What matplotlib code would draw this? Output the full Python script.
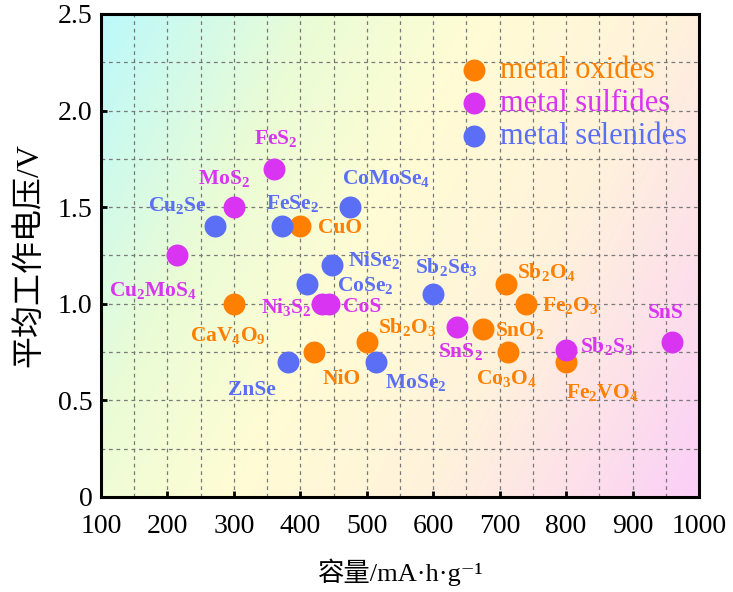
import numpy as np
import matplotlib
matplotlib.use("Agg")
import matplotlib.pyplot as plt
from matplotlib.colors import LinearSegmentedColormap
from matplotlib.ticker import MultipleLocator

plt.rcParams['font.family'] = ['Liberation Serif', 'Noto Sans CJK SC', 'DejaVu Serif']
plt.rcParams['mathtext.fontset'] = 'custom'
plt.rcParams['mathtext.rm'] = 'Liberation Serif'
plt.rcParams['mathtext.default'] = 'regular'

# data: (capacity mA h/g, average voltage V)
oxide_names = ['CuO', 'CaV$_4$O$_9$', 'NiO', 'Sb$_2$O$_3$', 'Sb$_2$O$_4$',
               'Fe$_2$O$_3$', 'SnO$_2$', 'Co$_3$O$_4$', 'Fe$_2$VO$_4$']
oxide_cap = [400, 300, 420, 500, 710, 740, 675, 712, 800]
oxide_volt = [1.40, 1.00, 0.75, 0.80, 1.10, 1.00, 0.87, 0.75, 0.70]

sulfide_names = ['FeS$_2$', 'MoS$_2$', 'Cu$_2$MoS$_4$', 'Ni$_3$S$_2$', 'CoS',
                 'SnS$_2$', 'Sb$_2$S$_3$', 'SnS']
sulfide_cap = [360, 300, 215, 432, 443, 636, 800, 960]
sulfide_volt = [1.70, 1.50, 1.25, 1.00, 1.00, 0.88, 0.76, 0.80]

selenide_names = ['Cu$_2$Se', 'FeSe$_2$', 'CoMoSe$_4$', 'NiSe$_2$', 'CoSe$_2$',
                  'Sb$_2$Se$_3$', 'ZnSe', 'MoSe$_2$']
selenide_cap = [272, 372, 475, 447, 410, 600, 382, 514]
selenide_volt = [1.40, 1.40, 1.50, 1.20, 1.10, 1.05, 0.70, 0.70]

x_ticks = [100, 200, 300, 400, 500, 600, 700, 800, 900, 1000]
y_ticks = [0, 0.5, 1.0, 1.5, 2.0, 2.5]
y_ticklabels = ['0', '0.5', '1.0', '1.5', '2.0', '2.5']

# label offsets in pixels (dx right, dy down) from each point
oxide_off = [(40, 2), (-6, 32), (28, 27), (40, -15), (40, -12),
             (44, 2), (37, 2), (-1, 26), (36, 31)]
sulfide_off = [(2, -30), (-10, -29), (-24, 35), (-35, 3), (33, 3),
               (3, 25), (41, -4), (-7, -29)]
selenide_off = [(-38, -21), (11, -23), (36, -29), (42, -5), (58, 1),
                (13, -27), (-36, 28), (40, 21)]

c_ox = '#ff8000'
c_su = '#d834f2'
c_se = '#5b6ef6'

fig = plt.figure(figsize=(7.33, 5.92), dpi=100)
ax = fig.add_axes([0.1378, 0.1605, 0.8158, 0.8159])

# background gradient: cyan top-left -> yellow -> pink bottom-right
cmap = LinearSegmentedColormap.from_list('bg', [
    (0.0, '#bcf9fb'), (0.25, '#eafcd6'), (0.45, '#fffcd4'),
    (0.68, '#fff2dc'), (0.85, '#fde0ea'), (1.0, '#fbcff8')])
gx, gy = np.meshgrid(np.linspace(0, 1, 300), np.linspace(1, 0, 300))
t = 0.7 * gx + 0.3 * (1 - gy)
ax.imshow(t, cmap=cmap, extent=[0, 1, 0, 1], transform=ax.transAxes,
          aspect='auto', zorder=0, vmin=0, vmax=1)

ax.set_xlim(100, 1000)
ax.set_ylim(0, 2.5)

ms = 250
ax.scatter(oxide_cap, oxide_volt, s=ms, color=c_ox, zorder=3, label='metal oxides', linewidths=0)
ax.scatter(sulfide_cap, sulfide_volt, s=ms, color=c_su, zorder=3, label='metal sulfides', linewidths=0)
ax.scatter(selenide_cap, selenide_volt, s=ms, color=c_se, zorder=3, label='metal selenides', linewidths=0)

for names, xs, ys, offs, col in [
        (oxide_names, oxide_cap, oxide_volt, oxide_off, c_ox),
        (sulfide_names, sulfide_cap, sulfide_volt, sulfide_off, c_su),
        (selenide_names, selenide_cap, selenide_volt, selenide_off, c_se)]:
    for n, x, y, (dx, dy) in zip(names, xs, ys, offs):
        ax.annotate(n, (x, y), xytext=(dx * 0.72, -dy * 0.72), textcoords='offset points',
                    ha='center', va='center', color=col, fontsize=15.5,
                    family='Liberation Serif', weight='bold', zorder=4)

ax.set_xticks(x_ticks)
ax.set_yticks(y_ticks)
ax.set_yticklabels(y_ticklabels)
ax.xaxis.set_minor_locator(MultipleLocator(50))
ax.yaxis.set_minor_locator(MultipleLocator(0.25))
ax.grid(True, which='both', linestyle=(0, (3, 3)), color='#7a7a7a', linewidth=0.9, zorder=1)
ax.set_axisbelow(True)
ax.tick_params(which='major', direction='in', length=4, width=2, labelsize=20)
ax.tick_params(which='minor', length=0)
ax.tick_params(axis='x', pad=12)
ax.tick_params(axis='y', pad=6)
for sp in ax.spines.values():
    sp.set_linewidth(2.2)
    sp.set_zorder(5)

ax.set_xlabel('容量/mA·h·g⁻¹', fontsize=19, labelpad=14)
ax.set_ylabel('平均工作电压/V', fontsize=23, labelpad=10)

leg = ax.legend(loc='upper left', bbox_to_anchor=(0.599, 0.913), frameon=False,
                prop={'family': 'Liberation Serif', 'size': 22},
                handlelength=1.0, handletextpad=0.35, labelspacing=0.13,
                borderpad=0, borderaxespad=0)
for txt, col in zip(leg.get_texts(), [c_ox, c_su, c_se]):
    txt.set_color(col)

fig.savefig('out.png', dpi=100)
